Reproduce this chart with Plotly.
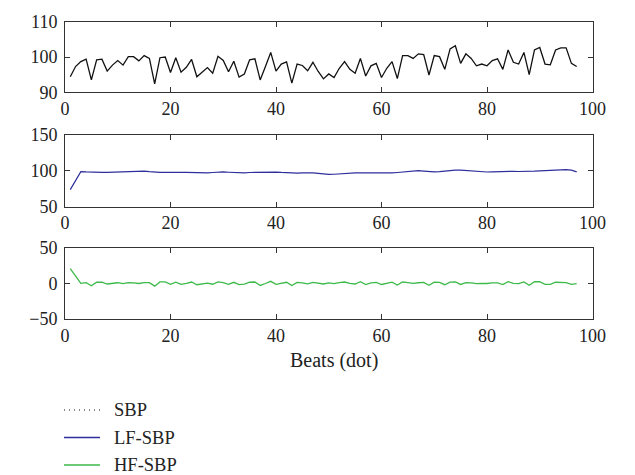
import plotly.graph_objects as go

beats = list(range(1, 98))

sbp = [94.4, 97.3, 98.7, 99.4, 93.5, 99.2, 99.4, 96.0, 97.7, 99.0,
       97.7, 100.1, 100.1, 98.9, 100.4, 99.6, 92.4, 99.8, 100.0, 95.6,
       99.8, 95.7, 97.1, 99.3, 94.4, 95.8, 97.0, 95.4, 100.2, 99.0,
       95.8, 98.8, 94.3, 95.2, 99.2, 99.5, 93.5, 97.3, 101.3, 96.0,
       98.0, 98.6, 92.6, 98.0, 97.6, 96.1, 98.5, 95.9, 93.8, 95.2,
       94.2, 96.8, 98.7, 96.5, 95.4, 99.6, 94.6, 97.5, 98.2, 94.2,
       96.8, 98.7, 93.9, 100.4, 100.4, 99.6, 100.9, 100.7, 94.9, 100.4,
       100.1, 96.5, 102.3, 103.2, 98.2, 100.9, 99.6, 97.5, 98.0, 97.5,
       99.0, 99.5, 96.5, 102.0, 98.5, 98.0, 101.3, 95.0, 102.0, 102.7,
       98.0, 97.8, 102.0, 102.6, 102.6, 98.2, 97.3]

lf_sbp = [73.5, 86.0, 98.5, 98.0, 97.5, 97.5, 97.5, 97.5, 97.8, 98.0,
          98.5, 99.0, 99.3, 99.3, 99.0, 98.3, 97.5, 97.3, 97.5, 97.8,
          97.8, 97.6, 97.3, 97.0, 96.8, 96.5, 96.6, 97.2, 97.8, 98.0,
          97.6, 97.0, 96.6, 96.8, 97.2, 97.5, 97.5, 97.6, 97.8, 97.8,
          97.3, 96.7, 96.2, 96.3, 96.8, 97.0, 96.7, 96.0, 95.2, 94.6,
          94.8, 95.5, 96.2, 96.6, 96.8, 96.8, 96.7, 96.6, 96.5, 96.5,
          96.5, 96.7, 97.2, 98.0, 99.0, 99.8, 99.8, 99.2, 98.5, 98.2,
          98.5, 99.3, 100.2, 100.6, 100.4, 99.8, 99.0, 98.3, 97.9, 97.9,
          98.2, 98.6, 98.9, 99.0, 98.8, 98.6, 98.5, 98.6, 99.0, 99.6,
          99.9, 99.8, 99.9, 100.6, 101.3, 100.5, 98.0]

hf_sbp = [20.5, 10.0, 0.0, 1.0, -3.5, 1.5, 1.5, -1.0, 0.0, 0.8,
          -0.5, 0.8, 0.6, -0.3, 1.0, 1.0, -4.0, 2.0, 2.0, -1.5,
          1.6, -1.5, -0.2, 1.8, -2.0, -0.6, 0.3, -1.3, 2.0, 0.8,
          -1.4, 1.4, -1.8, -1.2, 1.5, 1.8, -3.0, -0.3, 2.8, -1.4,
          0.5, 1.4, -3.2, 1.3, 0.6, -0.7, 1.3, -0.1, -1.0, 0.5,
          -0.5, 1.0, 1.8, 0.0, -1.0, 2.2, -1.7, 0.7, 1.3, -1.7,
          0.2, 1.5, -2.5, 1.8, 1.0, 0.0, 0.8, 1.2, -2.8, 1.6,
          1.2, -2.0, 1.6, 2.1, -1.6, 0.8, 0.5, -0.5, 0.0, -0.3,
          0.6, 0.7, -1.8, 2.3, -0.2, -0.5, 2.0, -2.8, 2.2, 2.4,
          -1.4, -1.5, 1.5, 1.5, 1.0, -1.6, -0.5]

x_ticks = [0, 20, 40, 60, 80, 100]
y_ticks_1 = [90, 100, 110]
y_ticks_2 = [50, 100, 150]
y_ticks_3 = [-50, 0, 50]

series_names = ["SBP", "LF-SBP", "HF-SBP"]
series_colors = ["#111111", "#2e2e9c", "#3dba4a"]

FONT = "Liberation Serif"
TXT = "#222222"
W, H = 635, 475


def px_x(p):
    return p / W


def px_y(p):
    return 1 - p / H


fig = go.Figure()
fig.add_trace(go.Scatter(x=beats, y=sbp, mode="lines", name=series_names[0],
                         line=dict(color=series_colors[0], width=1.3),
                         showlegend=False, xaxis="x", yaxis="y"))
fig.add_trace(go.Scatter(x=beats, y=lf_sbp, mode="lines", name=series_names[1],
                         line=dict(color=series_colors[1], width=1.2),
                         showlegend=False, xaxis="x2", yaxis="y2"))
fig.add_trace(go.Scatter(x=beats, y=hf_sbp, mode="lines", name=series_names[2],
                         line=dict(color=series_colors[2], width=1.3),
                         showlegend=False, xaxis="x3", yaxis="y3"))

xdom = [px_x(65), px_x(592.5)]
axis_common = dict(showgrid=False, zeroline=False, showline=True, linecolor="#333333", linewidth=1,
                   mirror="ticks", ticks="inside", ticklen=5, tickcolor="#333333",
                   tickfont=dict(family=FONT, size=18, color=TXT))
xcommon = dict(axis_common, range=[0, 100], tickvals=x_ticks, domain=xdom)
ycommon = dict(axis_common, ticklabelstandoff=3)

# manual legend (line samples + text)
legend_y = [410, 437.5, 465]
legend_dash = ["1px,4px", "solid", "solid"]
shapes = []
annotations = []
for name, col, dash, ly in zip(series_names, series_colors, legend_dash, legend_y):
    shapes.append(dict(type="line", xref="paper", yref="paper",
                       x0=px_x(64), x1=px_x(100), y0=px_y(ly), y1=px_y(ly),
                       line=dict(color=col, width=1.1 if dash != "solid" else 1.3, dash=dash)))
    annotations.append(dict(text=name, x=px_x(112), y=px_y(ly), xref="paper", yref="paper",
                            showarrow=False, xanchor="left", yanchor="middle",
                            font=dict(family=FONT, size=18.5, color=TXT)))

annotations.append(dict(text="Beats (dot)", x=px_x(334), y=px_y(360), xref="paper", yref="paper",
                        showarrow=False, xanchor="center", yanchor="middle",
                        font=dict(family=FONT, size=20, color=TXT)))

fig.update_layout(
    width=W, height=H, margin=dict(l=0, r=0, t=0, b=0, autoexpand=False),
    paper_bgcolor="white", plot_bgcolor="white",
    font=dict(family=FONT, size=18, color=TXT),
    showlegend=False,
    xaxis=dict(xcommon, anchor="y"),
    xaxis2=dict(xcommon, anchor="y2"),
    xaxis3=dict(xcommon, anchor="y3"),
    yaxis=dict(ycommon, range=[90, 110], tickvals=y_ticks_1, anchor="x",
               domain=[px_y(92.3), px_y(21.7)]),
    yaxis2=dict(ycommon, range=[50, 150], tickvals=y_ticks_2, anchor="x2",
                domain=[px_y(206.5), px_y(134.5)]),
    yaxis3=dict(ycommon, range=[-50, 50], tickvals=y_ticks_3, anchor="x3",
                domain=[px_y(318.9), px_y(247.7)]),
    shapes=shapes,
    annotations=annotations,
)

fig.write_html("out.html")
